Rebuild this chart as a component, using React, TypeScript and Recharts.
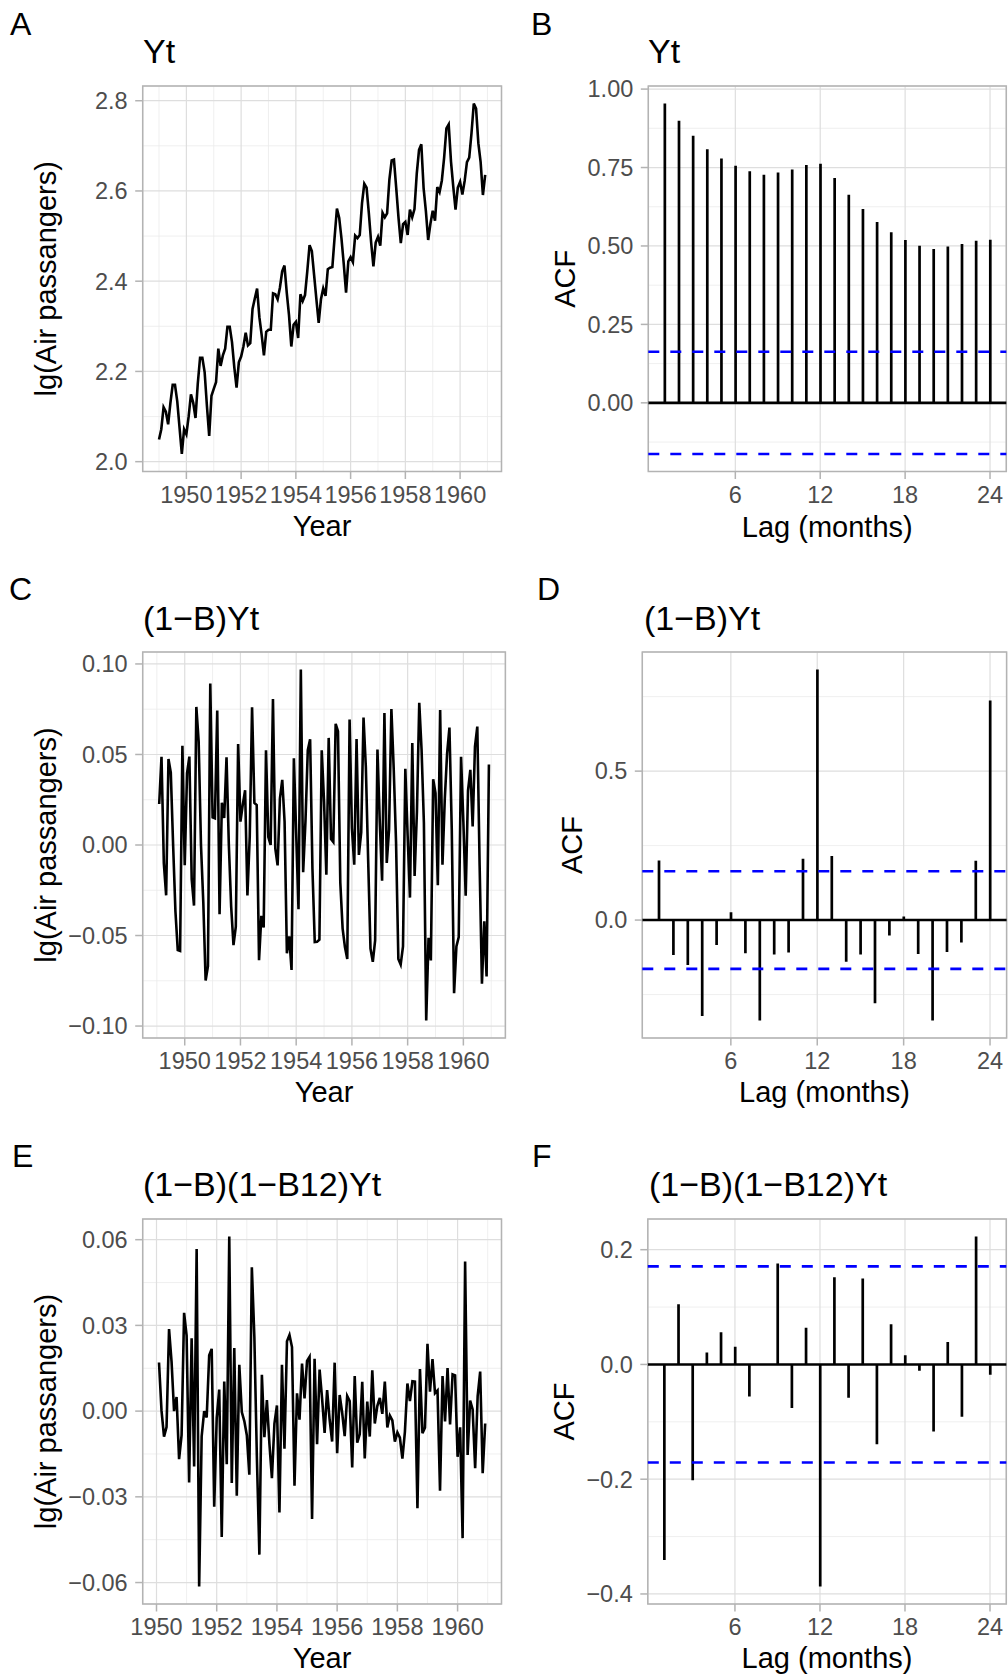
import React from "react";
import {
  LineChart,
  Line,
  ComposedChart,
  Bar,
  XAxis,
  YAxis,
  CartesianGrid,
  ReferenceLine,
  ReferenceArea,
} from "recharts";

const FONT = '"Liberation Sans", Arial, Helvetica, sans-serif';

// monthly air passengers (thousands), Jan 1949 .. Dec 1960
const startYear = 1949;
const airPassengers = [
  112, 118, 132, 129, 121, 135, 148, 148, 136, 119, 104, 118,
  115, 126, 141, 135, 125, 149, 170, 170, 158, 133, 114, 140,
  145, 150, 178, 163, 172, 178, 199, 199, 184, 162, 146, 166,
  171, 180, 193, 181, 183, 218, 230, 242, 209, 191, 172, 194,
  196, 196, 236, 235, 229, 243, 264, 272, 237, 211, 180, 201,
  204, 188, 235, 227, 234, 264, 302, 293, 259, 229, 203, 229,
  242, 233, 267, 269, 270, 315, 364, 347, 312, 274, 237, 278,
  284, 277, 317, 313, 318, 374, 413, 405, 355, 306, 271, 306,
  315, 301, 356, 348, 355, 422, 465, 467, 404, 347, 305, 336,
  340, 318, 362, 348, 363, 435, 491, 505, 404, 359, 310, 337,
  360, 342, 406, 396, 420, 472, 548, 559, 463, 407, 362, 405,
  417, 391, 419, 461, 472, 535, 622, 606, 508, 461, 390, 432,
];

// autocorrelations, lags 1..24
const acfYt = [
  0.954, 0.899, 0.851, 0.808, 0.779, 0.756, 0.738, 0.727, 0.734, 0.744, 0.758, 0.762,
  0.717, 0.663, 0.618, 0.576, 0.544, 0.519, 0.501, 0.49, 0.498, 0.506, 0.517, 0.52,
];
const acfDiff = [
  0.2, -0.117, -0.151, -0.322, -0.084, 0.026, -0.111, -0.337, -0.116, -0.109, 0.206, 0.841,
  0.215, -0.14, -0.116, -0.279, -0.052, 0.012, -0.114, -0.337, -0.107, -0.075, 0.199, 0.737,
];
const acfSeasonal = [
  -0.341, 0.105, -0.202, 0.021, 0.056, 0.031, -0.056, -0.001, 0.176, -0.076, 0.064, -0.387,
  0.152, -0.058, 0.15, -0.139, 0.07, 0.016, -0.011, -0.117, 0.039, -0.091, 0.223, -0.018,
];
const ciYt = 0.163;
const ciDiff = 0.164;
const ciSeasonal = 0.171;

// ticks and grid lines
const yearTicks = [1950, 1952, 1954, 1956, 1958, 1960];
const yearMinor = [1949, 1951, 1953, 1955, 1957, 1959, 1961];
const lagTicks = [6, 12, 18, 24];

const ticksA = [2.0, 2.2, 2.4, 2.6, 2.8];
const minorA = [2.1, 2.3, 2.5, 2.7];
const ticksB = [0, 0.25, 0.5, 0.75, 1.0];
const minorB = [-0.125, 0.125, 0.375, 0.625, 0.875];
const ticksC = [-0.1, -0.05, 0, 0.05, 0.1];
const minorC = [-0.075, -0.025, 0.025, 0.075];
const ticksD = [0, 0.5];
const minorD = [-0.25, 0.25, 0.75];
const ticksE = [-0.06, -0.03, 0, 0.03, 0.06];
const minorE = [-0.045, -0.015, 0.015, 0.045];
const ticksF = [-0.4, -0.2, 0, 0.2];
const minorF = [-0.3, -0.1, 0.1];

// series
const yt = airPassengers.map((v, i) => ({ t: startYear + i / 12, y: Math.log10(v) }));
const diff1 = yt.slice(1).map((p, i) => ({ t: p.t, y: p.y - yt[i].y }));
const diff12 = diff1.slice(12).map((p, i) => ({ t: p.t, y: p.y - diff1[i].y }));

const expand = (vals: number[]): [number, number] => {
  const lo = Math.min(...vals);
  const hi = Math.max(...vals);
  const pad = (hi - lo) * 0.05;
  return [lo - pad, hi + pad];
};

const Y_AXIS_W = 100;
const X_AXIS_H = 50;

type Box = { left: number; top: number; right: number; bottom: number };
type Cell = { x: number; y: number; w: number; h: number };

const marginFor = (cell: Cell, box: Box) => ({
  top: box.top - cell.y,
  right: cell.x + cell.w - box.right,
  bottom: cell.y + cell.h - box.bottom - X_AXIS_H,
  left: box.left - cell.x - Y_AXIS_W,
});

const tickStyle = { fill: "#4d4d4d", fontSize: 23.5, fontFamily: FONT };
const tickLineStyle = { stroke: "#b3b3b3", strokeWidth: 1.5 };
const minus = (s: string) => s.replace("-", "\u2212");

interface TimePanelProps {
  cell: Cell;
  box: Box;
  data: { t: number; y: number }[];
  yTicks: number[];
  yMinor: number[];
  xMinor: number[];
  digits: number;
}

function TimePanel({ cell, box, data, yTicks, yMinor, xMinor, digits }: TimePanelProps) {
  const xDom = expand(data.map((d) => d.t));
  const yDom = expand(data.map((d) => d.y));
  return (
    <div style={{ position: "absolute", left: cell.x, top: cell.y }}>
      <LineChart width={cell.w} height={cell.h} data={data} margin={marginFor(cell, box)}>
        <CartesianGrid
          stroke="#ebebeb"
          strokeWidth={0.8}
          horizontalValues={yMinor}
          verticalValues={xMinor.filter((v) => v > xDom[0] && v < xDom[1])}
        />
        <CartesianGrid stroke="#dedede" strokeWidth={1.2} />
        <XAxis
          type="number"
          dataKey="t"
          domain={xDom}
          allowDataOverflow
          ticks={yearTicks}
          interval={0}
          tick={tickStyle}
          tickLine={tickLineStyle}
          axisLine={false}
          tickSize={7.5}
          tickMargin={7.3}
          height={X_AXIS_H}
        />
        <YAxis
          type="number"
          domain={yDom}
          allowDataOverflow
          ticks={yTicks}
          interval={0}
          tick={tickStyle}
          tickLine={tickLineStyle}
          axisLine={false}
          tickSize={7.5}
          tickMargin={7.5}
          width={Y_AXIS_W}
          tickFormatter={(v: number) => minus(v.toFixed(digits))}
        />
        <Line
          type="linear"
          dataKey="y"
          stroke="#000"
          strokeWidth={2.6}
          dot={false}
          isAnimationActive={false}
        />
        <ReferenceArea
          x1={xDom[0]}
          x2={xDom[1]}
          y1={yDom[0]}
          y2={yDom[1]}
          fill="none"
          stroke="#b3b3b3"
          strokeWidth={1.5}
          ifOverflow="visible"
        />
      </LineChart>
    </div>
  );
}

interface AcfPanelProps {
  cell: Cell;
  box: Box;
  acf: number[];
  ci: number;
  yTicks: number[];
  yMinor: number[];
  digits: number;
}

function AcfPanel({ cell, box, acf, ci, yTicks, yMinor, digits }: AcfPanelProps) {
  const data = acf.map((v, i) => ({ lag: i + 1, acf: v }));
  const xDom = expand(data.map((d) => d.lag));
  const yDom = expand([...acf, ci, -ci, 0]);
  return (
    <div style={{ position: "absolute", left: cell.x, top: cell.y }}>
      <ComposedChart width={cell.w} height={cell.h} data={data} margin={marginFor(cell, box)}>
        <CartesianGrid stroke="#ebebeb" strokeWidth={0.8} vertical={false} horizontalValues={yMinor} />
        <CartesianGrid stroke="#dedede" strokeWidth={1.2} />
        <XAxis
          type="number"
          dataKey="lag"
          domain={xDom}
          allowDataOverflow
          ticks={lagTicks}
          interval={0}
          tick={tickStyle}
          tickLine={tickLineStyle}
          axisLine={false}
          tickSize={7.5}
          tickMargin={7.3}
          height={X_AXIS_H}
        />
        <YAxis
          type="number"
          domain={yDom}
          allowDataOverflow
          ticks={yTicks}
          interval={0}
          tick={tickStyle}
          tickLine={tickLineStyle}
          axisLine={false}
          tickSize={7.5}
          tickMargin={7.5}
          width={Y_AXIS_W}
          tickFormatter={(v: number) => minus(v.toFixed(digits))}
        />
        <ReferenceLine y={0} stroke="#000" strokeWidth={2.6} />
        <Bar dataKey="acf" fill="#000" barSize={2.7} isAnimationActive={false} />
        <ReferenceLine y={ci} stroke="#0000ff" strokeWidth={2.6} strokeDasharray="11 11" />
        <ReferenceLine y={-ci} stroke="#0000ff" strokeWidth={2.6} strokeDasharray="11 11" />
        <ReferenceArea
          x1={xDom[0]}
          x2={xDom[1]}
          y1={yDom[0]}
          y2={yDom[1]}
          fill="none"
          stroke="#b3b3b3"
          strokeWidth={1.5}
          ifOverflow="visible"
        />
      </ComposedChart>
    </div>
  );
}

const boxA = { left: 142.7, top: 86, right: 501.5, bottom: 471.5 };
const boxB = { left: 648.3, top: 86, right: 1006.3, bottom: 471.5 };
const boxC = { left: 142.7, top: 652, right: 505.4, bottom: 1038 };
const boxD = { left: 642.3, top: 652, right: 1006.6, bottom: 1038 };
const boxE = { left: 142.7, top: 1219, right: 501.5, bottom: 1604 };
const boxF = { left: 647.8, top: 1219, right: 1006.3, bottom: 1604 };

const mid = (b: Box) => ({ x: (b.left + b.right) / 2, y: (b.top + b.bottom) / 2 });

export default function App() {
  const yLabel = "lg(Air passangers)";
  return (
    <div
      style={{
        position: "absolute",
        left: 0,
        top: 0,
        width: 1008,
        height: 1675,
        background: "#fff",
        fontFamily: FONT,
      }}
    >
      <TimePanel cell={{ x: 0, y: 0, w: 508, h: 560 }} box={boxA} data={yt} yTicks={ticksA} yMinor={minorA} xMinor={yearMinor} digits={1} />
      <AcfPanel cell={{ x: 508, y: 0, w: 500, h: 560 }} box={boxB} acf={acfYt} ci={ciYt} yTicks={ticksB} yMinor={minorB} digits={2} />
      <TimePanel cell={{ x: 0, y: 560, w: 508, h: 560 }} box={boxC} data={diff1} yTicks={ticksC} yMinor={minorC} xMinor={yearMinor} digits={2} />
      <AcfPanel cell={{ x: 508, y: 560, w: 500, h: 560 }} box={boxD} acf={acfDiff} ci={ciDiff} yTicks={ticksD} yMinor={minorD} digits={1} />
      <TimePanel cell={{ x: 0, y: 1120, w: 508, h: 555 }} box={boxE} data={diff12} yTicks={ticksE} yMinor={minorE} xMinor={yearMinor} digits={2} />
      <AcfPanel cell={{ x: 508, y: 1120, w: 500, h: 555 }} box={boxF} acf={acfSeasonal} ci={ciSeasonal} yTicks={ticksF} yMinor={minorF} digits={1} />

      <svg
        width={1008}
        height={1675}
        style={{ position: "absolute", left: 0, top: 0, pointerEvents: "none" }}
        fontFamily={FONT}
      >
        {/* panel tags */}
        <g fontSize={32} fill="#000">
          <text x={10} y={35}>A</text>
          <text x={531} y={35}>B</text>
          <text x={9} y={600}>C</text>
          <text x={537} y={600}>D</text>
          <text x={12} y={1167}>E</text>
          <text x={532} y={1167}>F</text>
        </g>
        {/* panel titles */}
        <g fontSize={34} fill="#000">
          <text x={143} y={63}>Yt</text>
          <text x={648} y={63}>Yt</text>
          <text x={143} y={630}>(1{"\u2212"}B)Yt</text>
          <text x={644} y={630}>(1{"\u2212"}B)Yt</text>
          <text x={143} y={1196}>(1{"\u2212"}B)(1{"\u2212"}B12)Yt</text>
          <text x={649} y={1196}>(1{"\u2212"}B)(1{"\u2212"}B12)Yt</text>
        </g>
        {/* axis titles */}
        <g fontSize={29} fill="#000" textAnchor="middle">
          <text x={mid(boxA).x} y={boxA.bottom + 64}>Year</text>
          <text x={mid(boxC).x} y={boxC.bottom + 64}>Year</text>
          <text x={mid(boxE).x} y={boxE.bottom + 64}>Year</text>
          <text x={mid(boxB).x} y={boxB.bottom + 65}>Lag (months)</text>
          <text x={mid(boxD).x} y={boxD.bottom + 64}>Lag (months)</text>
          <text x={mid(boxF).x} y={boxF.bottom + 64}>Lag (months)</text>
          <text transform={`translate(55.5 ${mid(boxA).y}) rotate(-90)`}>{yLabel}</text>
          <text transform={`translate(55.5 ${mid(boxC).y}) rotate(-90)`}>{yLabel}</text>
          <text transform={`translate(55.5 ${mid(boxE).y}) rotate(-90)`}>{yLabel}</text>
          <text transform={`translate(575 ${mid(boxB).y}) rotate(-90)`}>ACF</text>
          <text transform={`translate(582 ${mid(boxD).y}) rotate(-90)`}>ACF</text>
          <text transform={`translate(574 ${mid(boxF).y}) rotate(-90)`}>ACF</text>
        </g>
      </svg>
    </div>
  );
}
